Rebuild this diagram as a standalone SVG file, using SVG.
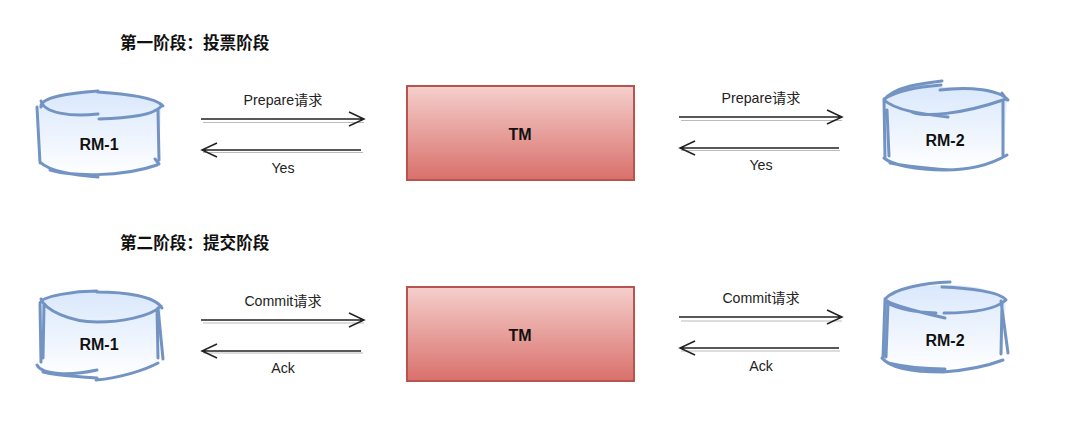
<svg xmlns="http://www.w3.org/2000/svg" width="1080" height="429" viewBox="0 0 1080 429">
<style>
text{font-family:"Liberation Sans","Noto Sans CJK SC",sans-serif;fill:#111}
.t{font-size:16.6px;font-weight:700}
.l{font-size:14.2px;text-anchor:middle;fill:#222}
.n{font-size:16px;font-weight:700;text-anchor:middle}
.s{fill:none;stroke:#7394c3;stroke-width:3;stroke-linecap:round;stroke-linejoin:round}
.f{fill:url(#db);stroke:none}
.b{fill:url(#red);stroke:#b85450;stroke-width:2}
.a{fill:none;stroke:#222;stroke-width:1.5}
.g{fill:none;stroke:#bbb;stroke-width:1.2}
</style>
<defs>
<linearGradient id="db" x1="0" y1="0" x2="0" y2="1"><stop offset="0" stop-color="#dae8fc"/><stop offset="1" stop-color="#fff"/></linearGradient>
<linearGradient id="red" x1="0" y1="0" x2="0" y2="1"><stop offset="0" stop-color="#f5cfcc"/><stop offset="1" stop-color="#d9706b"/></linearGradient>
</defs>
<text class="t" x="120" y="48.500">第一阶段：投票阶段</text>
<text class="t" x="120" y="248.500">第二阶段：提交阶段</text>
<g id="rm1a">
<path class="f" d="M39,104C45,94 75,92 98,92C125,93 155,95 161,106L159,165C150,172 120,177 98,177C70,176 45,170 40,162Z"/>
<path class="s" d="M41,107C40,97 70,93 98,91M98,92C125,94 155,97 163,106M41,101C44,113 70,117 98,114M99,119C125,118 155,116 162,105M37,107L40,163M158,110L159,160M40,162C50,172 75,175 98,177M50,170C70,176 120,178 157,165M155,159L159,164"/>
<text class="n" x="99" y="150">RM-1</text>
</g>
<g id="tm1"><rect class="b" x="407" y="86" width="227" height="94"/><text class="n" x="520" y="140">TM</text></g>
<g id="rm2a">
<path class="f" d="M884,100C895,90 925,86 945,87C975,87 1000,92 1007,100L1004,155C995,165 970,170 945,170C915,170 890,165 885,155Z"/>
<path class="s" d="M884,100C895,86 925,83 942,81M940,90C970,86 1000,90 1008,100M941,85C915,87 895,92 884,99M884,100C895,110 920,114 948,117M912,112C925,117 960,115 1006,99M1002,93L1007,100M884,100L885,158M887,110L889,156M1003,100L1003,157M884,158C892,165 915,170 945,170C970,170 990,165 1007,155M890,163C915,168 930,168 950,170"/>
<text class="n" x="945" y="146">RM-2</text>
</g>
<g id="rm1b">
<path class="f" d="M40,303C50,295 75,292 97,292C125,292 155,297 161,307L158,360C145,372 120,378 97,378C70,378 45,373 39,365Z"/>
<path class="s" d="M40,303C42,296 75,291 97,291M97,292C125,292 155,296 162,308M41,299C45,310 70,322 97,322C120,322 150,317 161,306M40,304L41,362M44,305L43,358M157,309L158,358M158,308L163,359M37,365C42,375 70,376 97,370M96,380C120,378 145,370 158,363M43,372C60,376 75,376 97,378"/>
<text class="n" x="99" y="350">RM-1</text>
</g>
<g id="tm2"><rect class="b" x="407" y="287" width="227" height="94"/><text class="n" x="520" y="341">TM</text></g>
<g id="rm2b">
<path class="f" d="M885,299C895,288 925,285 945,285C975,285 1000,291 1006,300L1003,353C990,365 965,372 943,372C915,372 890,367 883,358Z"/>
<path class="s" d="M885,299C895,288 925,283 950,282M942,287C970,288 1000,292 1006,300M885,299C887,303 910,310 945,318M885,302C900,310 915,312 936,313M944,313C970,313 995,310 1006,300M885,300L883,357M888,303L886,357M1002,304L1001,354M1001,301L1008,353M882,358C890,368 915,372 943,372C970,370 990,365 1003,360M888,363C905,367 925,369 945,369"/>
<text class="n" x="945" y="346">RM-2</text>
</g>
<g id="connectors">
<path class="g" d="M203,122.500H364M203,152.500H363M681,120.500H842M681,150.500H840M203,323H364M203,353H363M681,321H842M681,351H840"/>
<path class="a" d="M201,119H364M349,112L364,119L349,126M361,150H202M217,143L202,150L217,157"/>
<path class="a" d="M679,117H842M827,110L842,117L827,124M839,148H680M695,141L680,148L695,155"/>
<path class="a" d="M201,320H364M349,313L364,320L349,327M361,351H202M217,344L202,351L217,358"/>
<path class="a" d="M679,317H842M827,310L842,317L827,324M839,348H680M695,341L680,348L695,355"/>
</g>
<g id="labels">
<text class="l" x="283" y="105">Prepare请求</text>
<text class="l" x="283" y="173">Yes</text>
<text class="l" x="761" y="103">Prepare请求</text>
<text class="l" x="761" y="170">Yes</text>
<text class="l" x="283" y="306">Commit请求</text>
<text class="l" x="283" y="373">Ack</text>
<text class="l" x="761" y="303">Commit请求</text>
<text class="l" x="761" y="371">Ack</text>
</g>
</svg>
